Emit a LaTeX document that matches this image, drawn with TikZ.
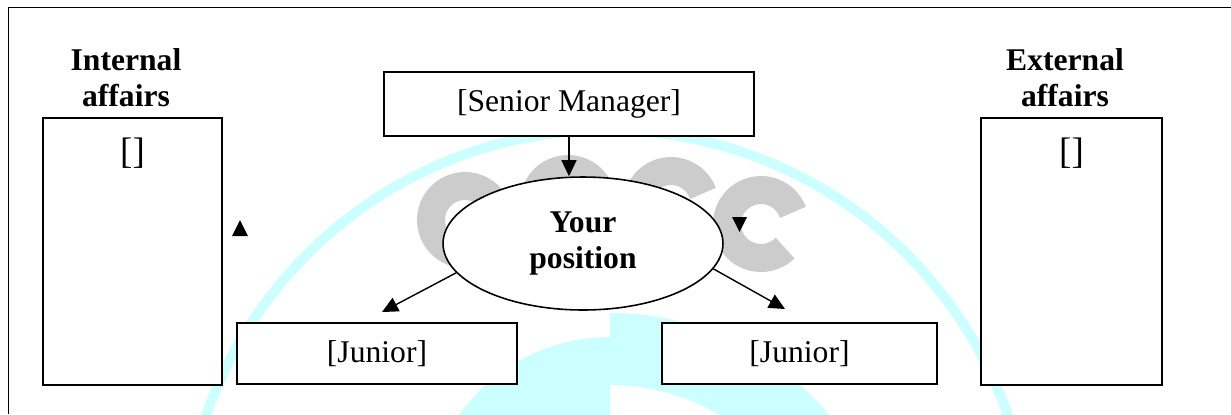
\documentclass[tikz,border=0pt]{standalone}
\usepackage{fontspec}
\setmainfont{Liberation Serif}
\usepackage{tikz}
\usetikzlibrary{positioning,shapes.geometric,arrows.meta}
\definecolor{wmcyan}{RGB}{204,255,255}
\definecolor{wmgray}{RGB}{204,204,204}
\tikzset{box node/.style={draw,fill=white,line width=0.9pt,inner sep=0pt,font=\fontsize{18}{20.5}\selectfont}}
\tikzset{pos node/.style={ellipse,draw,fill=white,line width=0.9pt,inner sep=0pt,minimum width=5.6cm,minimum height=2.66cm,align=center,font=\fontsize{18}{20.5}\selectfont\bfseries}}
\tikzset{head node/.style={align=center,inner sep=0pt,font=\fontsize{18}{20.5}\selectfont\bfseries}}
\tikzset{slot node/.style={inner sep=0pt,font=\fontsize{21}{24}\selectfont}}
\tikzset{link/.style={-{Triangle[length=0.32cm,width=0.3cm]},line width=0.8pt}}

\begin{document}
\begin{tikzpicture}[x=0.02cm,y=-0.02cm]
    \useasboundingbox (0,0) rectangle (1231,414);

    % watermark behind everything
    \begin{scope}
        \clip (0,0) rectangle (1231,414);
        \draw[wmcyan,line width=0.2cm] (607,554) circle (424);
        \begin{scope}
            \clip (0,0) rectangle (610,414);
            \fill[wmcyan] (610,522) circle (185);
        \end{scope}
        \begin{scope}
            \clip (610,0) rectangle (1231,414);
            \fill[wmcyan,even odd rule] (610,600) circle (287) (610,600) circle (215);
        \end{scope}
    \end{scope}
    \foreach \cx/\cy in {465/220,568/203,671/205,761/224}
        \draw[wmgray,line width=0.56cm] ([shift={(45:34)}]\cx,\cy) arc (45:340:34);

    \draw[line width=1pt] (8.5,414) -- (8.5,7.5) -- (1231,7.5);

    \node[box node,minimum width=3.58cm,minimum height=5.34cm] (intbox) at (132.5,251.5) {};
    \node[head node] (inthead) [above=0.2cm of intbox,xshift=-0.13cm] {Internal\\affairs};
    \node[slot node] (intslot) [below=0.4cm of intbox.north] {[]};

    \node[box node,minimum width=3.62cm,minimum height=5.34cm] (extbox) at (1071.5,251.5) {};
    \node[head node] (exthead) [above=0.2cm of extbox,xshift=-0.13cm] {External\\affairs};
    \node[slot node] (extslot) [below=0.4cm of extbox.north] {[]};

    \node[box node,minimum width=7.4cm,minimum height=1.28cm] (sm) at (569,104) {[Senior Manager]};
    \node[pos node] (pos) at (583,243.5) {Your\\position};
    \node[box node,minimum width=5.6cm,minimum height=1.22cm] (jl) at (377,353.5) {[Junior]};
    \node[box node,minimum width=5.5cm,minimum height=1.22cm] (jr) at (799.5,353.5) {[Junior]};

    \coordinate (jltip) at (382,312);
    \coordinate (jrtip) at (785,309);
    \draw[link] (sm.south) -- (sm.south |- pos.north);
    \draw[link] (pos.193) -- (jltip);
    \draw[link] (pos.-11) -- (jrtip);

    % loose arrow heads
    \fill (232,236) -- (248,236) -- (240,220) -- cycle;
    \fill (732,217) -- (747,217) -- (739.5,232) -- cycle;
\end{tikzpicture}
\end{document}
